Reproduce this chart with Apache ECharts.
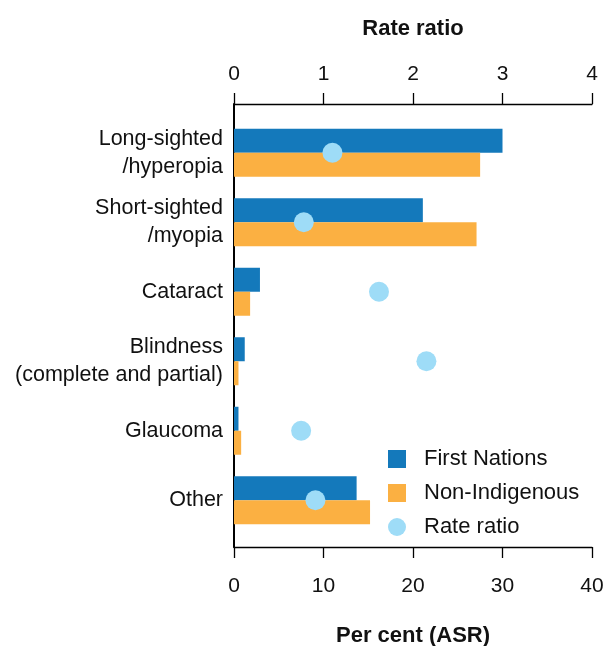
<!DOCTYPE html>
<html>
<head>
<meta charset="utf-8">
<script src="https://cdn.jsdelivr.net/npm/echarts@6/dist/echarts.min.js"></script>
<style>
  html, body { margin: 0; padding: 0; background: #ffffff; }
  #chart { width: 611px; height: 646px; }
</style>
</head>
<body>
<div id="chart"></div>
<script>
  // data
  var categories = ['Long-sighted\n/hyperopia', 'Short-sighted\n/myopia', 'Cataract',
    'Blindness\n(complete and partial)', 'Glaucoma', 'Other'];
  var firstNations = [30.0, 21.1, 2.9, 1.2, 0.5, 13.7];
  var nonIndigenous = [27.5, 27.1, 1.8, 0.5, 0.8, 15.2];
  var rateRatio = [1.1, 0.78, 1.62, 2.15, 0.75, 0.91];
  var percentTicks = [0, 40, 10];   // min, max, interval
  var ratioTicks = [0, 4, 1];

  var font = 'Liberation Sans, Arial, sans-serif';
  var blue = '#1479bb', orange = '#fbb042', light = '#9edcf7';

  var chart = echarts.init(document.getElementById('chart'));
  var square = 'path://M0,0h10v10h-10z';

  var option = {
    animation: false,
    textStyle: { fontFamily: font },
    grid: [
      // outer grid: just the frame axes
      { left: 234, right: 19, top: 104, bottom: 99, outerBoundsMode: 'none' },
      // inner grid: bars sit inside with some padding top/bottom
      { left: 234, right: 19, top: 118, bottom: 111, outerBoundsMode: 'none' }
    ],
    legend: {
      orient: 'vertical',
      left: 388,
      top: 448,
      padding: 0,
      itemWidth: 20,
      itemHeight: 18,
      itemGap: 12,
      textStyle: { fontSize: 22, color: '#111', padding: [0, 0, 0, 12], fontFamily: font },
      data: [
        { name: 'First Nations', icon: square },
        { name: 'Non-Indigenous', icon: square },
        { name: 'Rate ratio', icon: 'circle' }
      ]
    },
    xAxis: [
      {
        gridIndex: 0, type: 'value', position: 'bottom',
        min: percentTicks[0], max: percentTicks[1], interval: percentTicks[2],
        name: 'Per cent (ASR)', nameLocation: 'middle', nameGap: 78,
        nameTextStyle: { fontSize: 22, fontWeight: 'bold', color: '#111' },
        axisLine: { show: true, lineStyle: { color: '#000', width: 1.3 } },
        axisTick: { show: true, length: 11, lineStyle: { color: '#000', width: 1.3 } },
        axisLabel: { fontSize: 21, color: '#111', margin: 29 },
        splitLine: { show: false }
      },
      {
        gridIndex: 0, type: 'value', position: 'top',
        min: ratioTicks[0], max: ratioTicks[1], interval: ratioTicks[2],
        name: 'Rate ratio', nameLocation: 'middle', nameGap: 64,
        nameTextStyle: { fontSize: 22, fontWeight: 'bold', color: '#111' },
        axisLine: { show: true, lineStyle: { color: '#000', width: 1.3 } },
        axisTick: { show: true, length: 11, lineStyle: { color: '#000', width: 1.3 } },
        axisLabel: { fontSize: 21, color: '#111', margin: 19 },
        splitLine: { show: false }
      },
      {
        gridIndex: 1, type: 'value', show: false,
        min: percentTicks[0], max: percentTicks[1]
      },
      {
        gridIndex: 1, type: 'value', show: false,
        min: ratioTicks[0], max: ratioTicks[1]
      }
    ],
    yAxis: [
      {
        gridIndex: 0, type: 'value', min: 0, max: 1,
        axisLine: { show: true, lineStyle: { color: '#000', width: 2 } },
        axisTick: { show: false }, axisLabel: { show: false }, splitLine: { show: false }
      },
      {
        gridIndex: 1, type: 'category', inverse: true, data: categories,
        axisLine: { show: false }, axisTick: { show: false },
        axisLabel: { fontSize: 21.5, color: '#111', margin: 11, lineHeight: 28, align: 'right' }
      }
    ],
    series: [
      {
        name: 'First Nations', type: 'bar', xAxisIndex: 2, yAxisIndex: 1,
        data: firstNations, barWidth: 24, barGap: '0%',
        itemStyle: { color: blue }
      },
      {
        name: 'Non-Indigenous', type: 'bar', xAxisIndex: 2, yAxisIndex: 1,
        data: nonIndigenous, barWidth: 24, barGap: '0%',
        itemStyle: { color: orange }
      },
      {
        name: 'Rate ratio', type: 'scatter', xAxisIndex: 3, yAxisIndex: 1,
        data: rateRatio, symbolSize: 20, z: 5,
        itemStyle: { color: light, opacity: 1 }
      }
    ]
  };

  chart.setOption(option);
</script>
</body>
</html>
